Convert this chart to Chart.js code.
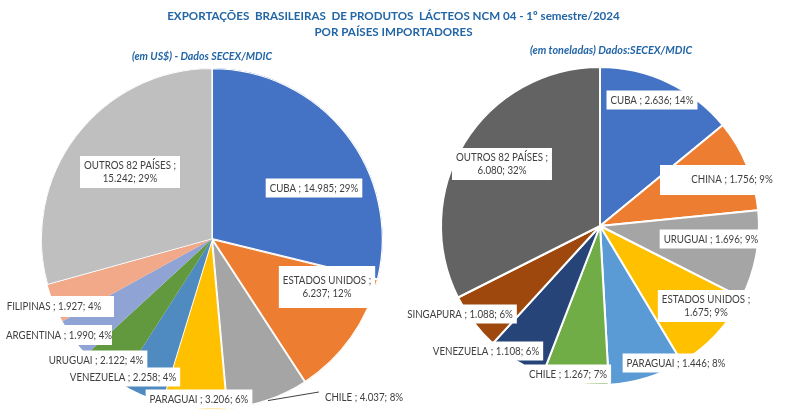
<!DOCTYPE html>
<html><head><meta charset="utf-8">
<script src="https://cdn.jsdelivr.net/npm/chart.js@4"></script>
<style>
html,body{margin:0;padding:0;background:#fff;}
#wrap{position:relative;width:787px;height:417px;overflow:hidden;background:#fff;}
canvas{position:absolute;left:0;top:0;}
.txt{position:absolute;white-space:nowrap;font-family:Lato,"Open Sans",sans-serif;color:#2366A6;}
</style>
</head><body>
<div id="wrap">
<canvas id="c1" width="787" height="417"></canvas>
<canvas id="c2" width="787" height="417"></canvas>
<div class="txt" id="t1" style="left:0;width:787px;top:8px;text-align:center;font-weight:bold;font-size:11.6px;line-height:16px;">EXPORTAÇÕES&nbsp; BRASILEIRAS&nbsp; DE PRODUTOS&nbsp; LÁCTEOS NCM 04 - 1º semestre/2024<br>POR PAÍSES IMPORTADORES</div>
<div class="txt" style="left:102px;width:200px;top:50px;text-align:center;font-weight:bold;font-style:italic;font-size:10.6px;">(em US$) - Dados SECEX/MDIC</div>
<div class="txt" style="left:511px;width:200px;top:43px;text-align:center;font-weight:bold;font-style:italic;font-size:10.8px;">(em toneladas) Dados:SECEX/MDIC</div>
</div>
<script>
// ---- data ----
const usdCategories = ['CUBA','ESTADOS UNIDOS','CHILE','PARAGUAI','VENEZUELA','URUGUAI','ARGENTINA','FILIPINAS','OUTROS 82 PAÍSES'];
const usdValues = [14985, 6237, 4037, 3206, 2258, 2122, 1990, 1927, 15242];
const usdColors = ['#4472C4','#ED7D31','#A5A5A5','#FFC000','#4F8BC0','#62993E','#8FA4D4','#F1A98A','#BFBFBF'];
const usdBorders = [1, 1, 1, 1, 0, 0, 0, 0, 0.6];

const tonCategories = ['CUBA','CHINA','URUGUAI','ESTADOS UNIDOS','PARAGUAI','CHILE','VENEZUELA','SINGAPURA','OUTROS 82 PAÍSES'];
const tonValues = [2636, 1756, 1696, 1675, 1446, 1267, 1108, 1088, 6080];
const tonColors = ['#4472C4','#ED7D31','#A5A5A5','#FFC000','#5B9BD5','#70AD47','#264478','#9E480E','#636363'];

// ---- label layout (text centre offsets from the pie centre) ----
const usdLabelOffsets = [[102,-51],[115,48],[152,158],[-13,160],[-89,138],[-116,121],[-153,96],[-158,67],[-82,-67]];
const usdWrap = [false,true,false,false,false,false,false,false,true];
const usdBoxPad = {1:[4,8]};
const usdBoxOverride = {6:[-59,-10,112,20], 7:[-54,-10,114,21]};
const usdLeaders = {2:true};

const tonLabelOffsets = [[52,-126],[132,-47],[111,13],[106,80],[76,137],[-32,148],[-114,125],[-140,88],[-98,-62]];
const tonWrap = [false,false,false,true,false,false,false,false,true];
const tonBoxOverride = {1:[-72,-14,117,30]};

const SX = 0.87; // horizontal squeeze of label text

function fmt(v){ return String(v).replace(/\B(?=(\d{3})+(?!\d))/g,'.'); }

const boxLabels = {
  id:'boxLabels',
  afterDatasetsDraw(chart, args, opts){
    const ctx = chart.ctx;
    const meta = chart.getDatasetMeta(0);
    const data = chart.data.datasets[0].data;
    const total = data.reduce((a,b)=>a+b,0);
    const cats = chart.data.labels;
    ctx.save();
    ctx.font = '11.2px Lato, "Open Sans", sans-serif';
    ctx.textBaseline = 'middle';
    ctx.textAlign = 'center';
    const lh = 13;
    meta.data.forEach((arc,i)=>{
      const cx = arc.x, cy = arc.y;
      const [dx,dy] = opts.offsets[i];
      const tx = cx+dx, ty = cy+dy;
      const pct = Math.round(data[i]/total*100)+'%';
      let lines;
      if (opts.wrap[i]) lines = [cats[i]+' ;', fmt(data[i])+'; '+pct];
      else lines = [cats[i]+' ; '+fmt(data[i])+'; '+pct];
      const w = Math.max(...lines.map(l=>ctx.measureText(l).width))*SX;
      const h = lines.length*lh;
      if (opts.leaders && opts.leaders[i]){
        const mid = (arc.startAngle+arc.endAngle)/2;
        const px = cx + Math.cos(mid)*arc.outerRadius;
        const py = cy + Math.sin(mid)*arc.outerRadius;
        ctx.strokeStyle = '#404040'; ctx.lineWidth = 1;
        ctx.beginPath(); ctx.moveTo(px,py); ctx.lineTo(tx - w/2 - 6, ty - 5); ctx.stroke();
      } else {
        let bx,by,bw,bh;
        const ov = opts.boxOverride && opts.boxOverride[i];
        if (ov){ bx=tx+ov[0]; by=ty+ov[1]; bw=ov[2]; bh=ov[3]; }
        else {
          const pad = (opts.boxPad && opts.boxPad[i]) || [4,3];
          bx = tx - w/2 - pad[0]; by = ty - h/2 - pad[1]; bw = w + 2*pad[0]; bh = h + 2*pad[1];
        }
        ctx.fillStyle = '#fff';
        ctx.fillRect(bx,by,bw,bh);
      }
      ctx.fillStyle = '#404040';
      lines.forEach((l,k)=>{
        ctx.save();
        ctx.translate(tx, ty - h/2 + lh/2 + k*lh);
        ctx.scale(SX,1);
        ctx.fillText(l, 0, 0);
        ctx.restore();
      });
    });
    ctx.restore();
  }
};

function makePie(id, labels, values, colors, borders, align, padding, labelOpts){
  return new Chart(document.getElementById(id), {
    type:'pie',
    data:{ labels, datasets:[{ data:values, backgroundColor:colors, borderColor:'#ffffff', borderWidth:borders, borderAlign:align, hoverOffset:0, offset:0 }] },
    options:{
      responsive:false, animation:false, events:[],
      layout:{ padding },
      plugins:{ legend:{display:false}, tooltip:{enabled:false}, title:{display:false}, boxLabels:labelOpts }
    },
    plugins:[boxLabels]
  });
}

makePie('c1', usdCategories, usdValues, usdColors, usdBorders, 'inner', {left:41, top:68, right:404, bottom:7},
  {offsets:usdLabelOffsets, wrap:usdWrap, boxPad:usdBoxPad, boxOverride:usdBoxOverride, leaders:usdLeaders});
makePie('c2', tonCategories, tonValues, tonColors, 2, 'center', {left:440, top:66, right:27, bottom:31},
  {offsets:tonLabelOffsets, wrap:tonWrap, boxOverride:tonBoxOverride});
</script>
</body></html>
